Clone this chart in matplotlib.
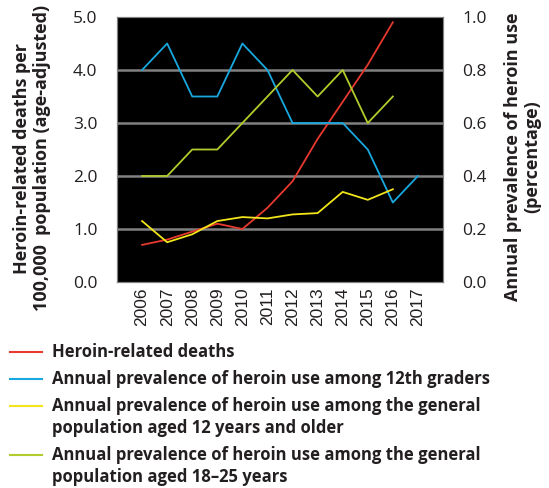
import matplotlib
matplotlib.use("Agg")
from matplotlib import pyplot as plt
from matplotlib.lines import Line2D

plt.rcParams['font.family'] = ['Open Sans', 'DejaVu Sans']

years = [2006, 2007, 2008, 2009, 2010, 2011, 2012, 2013, 2014, 2015, 2016, 2017]
deaths = [0.7, 0.8, 0.95, 1.1, 1.0, 1.4, 1.9, 2.7, 3.4, 4.1, 4.9]
grade12 = [0.8, 0.9, 0.7, 0.7, 0.9, 0.8, 0.6, 0.6, 0.6, 0.5, 0.3, 0.4]
general12 = [0.23, 0.15, 0.18, 0.23, 0.245, 0.24, 0.255, 0.26, 0.34, 0.31, 0.35]
aged18_25 = [0.4, 0.4, 0.5, 0.5, 0.6, 0.7, 0.8, 0.7, 0.8, 0.6, 0.7]

left_ticks = [0, 1, 2, 3, 4, 5]
right_ticks = [0, 0.2, 0.4, 0.6, 0.8, 1.0]

red = "#e8392e"
blue = "#18a8e0"
yellow = "#f2e51a"
green = "#b3cc2c"
text_col = "#231f20"

W, H = 549, 488
fig = plt.figure(figsize=(W / 100, H / 100), dpi=100)
ax = fig.add_axes([117 / W, 1 - 282 / H, 326 / W, 265 / H])
ax2 = ax.twinx()
ax.set_facecolor("black")

for y in left_ticks[1:-1]:
    ax.axhline(y, color="#808080", lw=1.8, zorder=1)

ax.plot(years[:len(deaths)], deaths, color=red, lw=1.3, zorder=3)
ax2.plot(years, grade12, color=blue, lw=1.3)
ax2.plot(years[:len(general12)], general12, color=yellow, lw=1.3)
ax2.plot(years[:len(aged18_25)], aged18_25, color=green, lw=1.3)

ax.set_xlim(2005, 2018)
ax.set_ylim(0, 5)
ax2.set_ylim(0, 1)
ax.set_xticks(years)
ax.set_xticklabels([str(y) for y in years], rotation=90, fontsize=12.5,
                   color=text_col, family="Liberation Sans")
ax.set_yticks(left_ticks)
ax.set_yticklabels(["%.1f" % v for v in left_ticks], fontsize=12.5, color=text_col)
ax2.set_yticks(right_ticks)
ax2.set_yticklabels(["%.1f" % v for v in right_ticks], fontsize=12.5, color=text_col)
ax.tick_params(axis="y", length=0, pad=14)
ax.tick_params(axis="x", length=0, pad=4)
ax2.tick_params(length=0, pad=14)
for a in (ax, ax2):
    for s in a.spines.values():
        s.set_color("#808080")

fig.text(32 / W, 1 - 158 / H, "Heroin-related deaths per\n100,000  population (age-adjusted)",
         rotation=90, ha="center", va="center", multialignment="center",
         fontsize=13, fontweight="bold", color=text_col, linespacing=1.1)
fig.text(523 / W, 1 - 157 / H, "Annual prevalence of heroin use\n(percentage)",
         rotation=90, ha="center", va="center", multialignment="center",
         fontsize=13, fontweight="bold", color=text_col, linespacing=1.1)

# legend drawn by hand so the line sits at the first text line
labels = [["Heroin-related deaths"],
          ["Annual prevalence of heroin use among 12th graders"],
          ["Annual prevalence of heroin use among the general",
           "population aged 12 years and older"],
          ["Annual prevalence of heroin use among the general",
           "population aged 18\u201325 years"]]
colors = [red, blue, yellow, green]
y = 352
for lab, c in zip(labels, colors):
    fig.add_artist(Line2D([10 / W, 42 / W], [1 - y / H, 1 - y / H], color=c, lw=1.5))
    for line in lab:
        fig.text(52 / W, 1 - y / H, line, ha="left", va="center",
                 fontsize=12, fontweight="bold", color=text_col)
        y += 22
    y += 5

fig.savefig("out.png", dpi=100)
